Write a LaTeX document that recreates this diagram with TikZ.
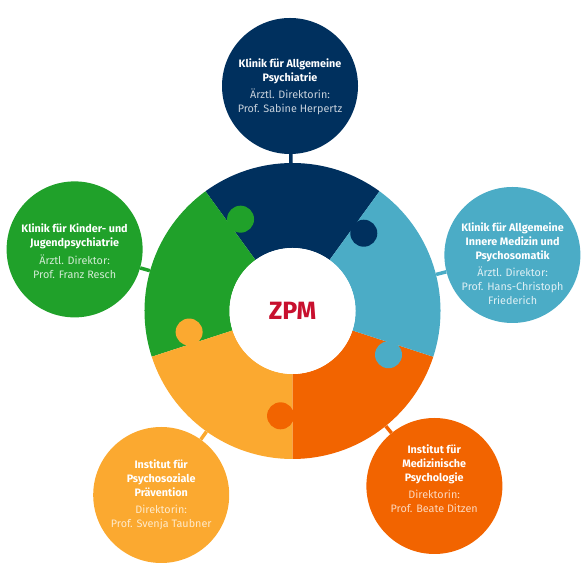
\documentclass[tikz,border=0pt]{standalone}
\usepackage{fontspec}
\setmainfont{Fira Sans}
\usetikzlibrary{calc}
\definecolor{cnavy}{HTML}{00305E}
\definecolor{cgreen}{HTML}{20A12A}
\definecolor{cblue}{HTML}{4BACC6}
\definecolor{corange}{HTML}{F26400}
\definecolor{cyellow}{HTML}{FBA930}
\definecolor{cred}{HTML}{C8102E}
\colorlet{lnavy}{white!78!cnavy}
\colorlet{lgreen}{white!80!cgreen}
\colorlet{lblue}{white!82!cblue}
\colorlet{lorange}{white!75!corange}
\colorlet{lyellow}{white!75!cyellow}
\newcommand{\zsub}[2]{{\mdseries\color{#1}#2}}
\begin{document}
\begin{tikzpicture}[x=1pt,y=1pt,
  unit/.style={circle, fill=#1, minimum size=136pt, inner sep=0pt},
  conn/.style={line width=3.5pt, draw=#1},
  label/.style={text=white, align=center, inner sep=0pt,
    font=\fontsize{10.8}{14}\selectfont\bfseries}
]
\useasboundingbox (0,0) rectangle (585,585);
\coordinate (c) at (292.5,274);
\node[circle, minimum size=296pt, inner sep=0pt] (ring) at (c) {};

% outer circles
\node[unit=cnavy]   (navy)   at (290,499)   {};
\node[unit=cgreen]  (green)  at (74.6,335.6) {};
\node[unit=cblue]   (blue)   at (512.4,330) {};
\node[unit=cyellow] (yellow) at (161.2,90)  {};
\node[unit=corange] (orange) at (434.4,99)  {};

% connectors
\draw[conn=cnavy]   (navy)   -- (ring);
\draw[conn=cgreen]  (green)  -- (ring);
\draw[conn=cblue]   (blue)   -- (ring);
\draw[conn=cyellow] (yellow) -- (ring);
\draw[conn=corange] (orange) -- (ring);

% puzzle ring
\foreach \a/\col in {54/cnavy,126/cgreen,198/cyellow,270/corange,342/cblue}{
  \fill[\col] ([shift={(\a:148)}]c) arc[start angle=\a, end angle=\a+72, radius=148]
    -- ([shift={(\a+72:63)}]c) arc[start angle=\a+72, end angle=\a, radius=63] -- cycle;
}
\foreach \a/\col in {54/cnavy,126/cgreen,198/cyellow,270/corange,342/cblue}{
  \fill[\col] ([shift={(\a-6.5:105.5)}]c) circle[radius=13.5];
}
\node[circle, fill=white, minimum size=126pt, inner sep=0pt, text=cred,
  font=\fontsize{25}{25}\selectfont\bfseries] (core) at (c) {ZPM};

% texts
\node[label] (tnavy) at (290,498) {Klinik für Allgemeine\\Psychiatrie\\[3.3pt]
  \zsub{lnavy}{Ärztl. Direktorin:}\\\zsub{lnavy}{Prof. Sabine Herpertz}};
\node[label] (tgreen) at (74.6,333.8) {Klinik für Kinder- und\\Jugendpsychiatrie\\[3.3pt]
  \zsub{lgreen}{Ärztl. Direktor:}\\\zsub{lgreen}{Prof. Franz Resch}};
\node[label] (tblue) at (512.6,321) {Klinik für Allgemeine\\Innere Medizin und\\Psychosomatik\\[3.3pt]
  \zsub{lblue}{Ärztl. Direktor:}\\\zsub{lblue}{Prof. Hans-Christoph}\\\zsub{lblue}{Friederich}};
\node[label] (tyellow) at (161.2,90.2) {Institut für\\Psychosoziale\\Prävention\\[3.3pt]
  \zsub{lyellow}{Direktorin:}\\\zsub{lyellow}{Prof. Svenja Taubner}};
\node[label] (torange) at (434.2,106.2) {Institut für\\Medizinische\\Psychologie\\[3.3pt]
  \zsub{lorange}{Direktorin:}\\\zsub{lorange}{Prof. Beate Ditzen}};
\end{tikzpicture}
\end{document}
